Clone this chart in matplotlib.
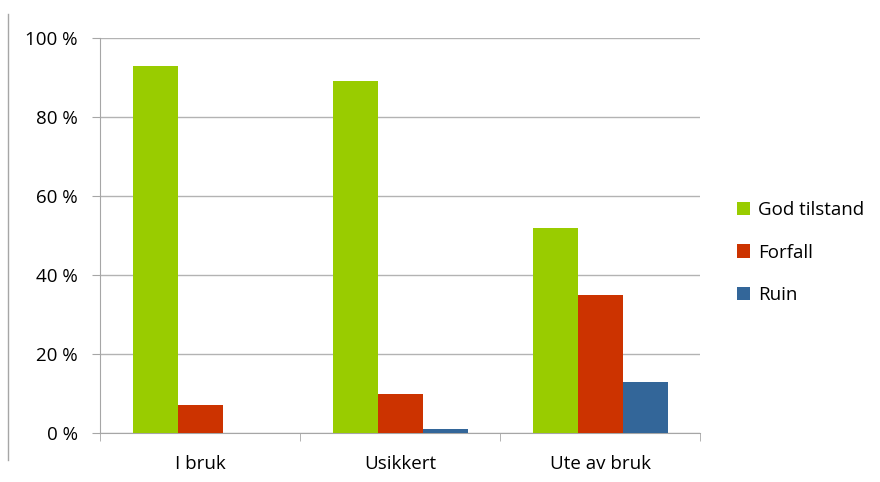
import numpy as np
import matplotlib
matplotlib.use('Agg')
import matplotlib.pyplot as plt
from matplotlib.lines import Line2D
from matplotlib.patches import Patch

# data
categories = ['I bruk', 'Usikkert', 'Ute av bruk']
series = ['God tilstand', 'Forfall', 'Ruin']
god = [93, 89, 52]
forfall = [7, 10, 35]
ruin = [0, 1, 13]
colors = ['#99CC00', '#CC3300', '#336699']

plt.rcParams['font.family'] = ['Open Sans', 'DejaVu Sans']

fig = plt.figure(figsize=(8.8, 4.82), dpi=100)
ax = fig.add_axes([100/880, 49/482, 600/880, 395/482])

x = np.arange(len(categories))
w = 0.225
for i, (vals, c) in enumerate(zip([god, forfall, ruin], colors)):
    ax.bar(x + (i - 1) * w, vals, w, color=c, zorder=3, linewidth=0)

ax.set_xlim(-0.5, 2.5)
ax.set_ylim(0, 100)
ax.set_yticks(range(0, 101, 20))
ax.set_yticklabels([f'{v} %' for v in range(0, 101, 20)], fontsize=13.5)
ax.set_xticks(x)
ax.set_xticklabels(categories, fontsize=13.5)
ax.tick_params(axis='x', length=0, pad=16)
ax.tick_params(axis='y', length=6, color='#A6A6A6', pad=10)
# minor ticks at the category boundaries
ax.set_xticks([-0.5, 0.5, 1.5, 2.5], minor=True)
ax.tick_params(axis='x', which='minor', length=6, color='#A6A6A6')

ax.grid(axis='y', color='#B3B3B3', linewidth=1, zorder=0)
for s in ['top', 'right']:
    ax.spines[s].set_visible(False)
for s in ['left', 'bottom']:
    ax.spines[s].set_color('#A6A6A6')

handles = [Patch(facecolor=c, label=s) for s, c in zip(series, colors)]
fig.legend(handles=handles, loc='center left', bbox_to_anchor=(0.818, 0.476),
           frameon=False, fontsize=13.5, handlelength=0.7, handleheight=0.7,
           labelspacing=1.3, handletextpad=0.45)

# chart border fragment on the left
fig.add_artist(Line2D([8/880, 8/880], [1 - 14/482, 1 - 460/482],
                      color='#A6A6A6', linewidth=1))

fig.savefig('out.png', dpi=100)
